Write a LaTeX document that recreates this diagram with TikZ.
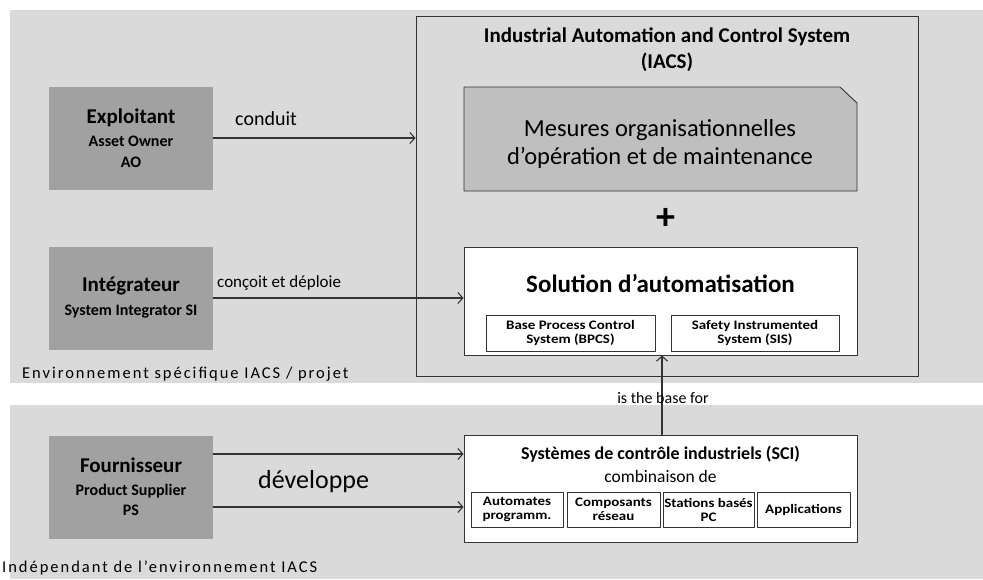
\documentclass[tikz,border=0pt]{standalone}
\usepackage{fontspec}
\usetikzlibrary{arrows.meta}
\setmainfont{Carlito}
\newfontfamily\widefont{Carlito}[FakeStretch=1.15]
\newfontfamily\spacedfont{Carlito}[LetterSpace=12]
\definecolor{dadada}{rgb}{0.855,0.855,0.855}
\definecolor{a0a0a0}{rgb}{0.63,0.63,0.63}
\definecolor{bebebe}{rgb}{0.75,0.75,0.75}
\definecolor{qqqqqq}{rgb}{0.2,0.2,0.2}
\tikzset{
  actor/.style={fill=a0a0a0,minimum width=164pt,minimum height=103pt,align=center,inner sep=0pt,font=\bfseries\fontsize{16}{16}\selectfont},
  whitebox/.style={draw=qqqqqq,line width=0.9pt,fill=white,inner sep=0pt},
  subbox/.style={draw=qqqqqq,line width=0.9pt,fill=white,align=center,inner sep=0pt,font=\widefont\bfseries\fontsize{13}{14}\selectfont},
  lbl/.style={inner sep=0pt,font=\fontsize{17}{20}\selectfont},
  fleche/.style={->,qqqqqq,line width=1.1pt}
}
\begin{document}
\begin{tikzpicture}[x=1pt,y=-1pt,line cap=round,line join=round,>={Straight Barb[length=5pt,width=11pt]}]
\useasboundingbox (0,0) rectangle (983,579);
% fonds
\fill[dadada] (10,10) rectangle (983,383);
\fill[dadada] (10,405) rectangle (983,579);
% IACS
\node[draw=qqqqqq,line width=0.9pt,minimum width=502pt,minimum height=360pt,inner sep=0pt] (iacs) at (667,196) {};
\node[align=center,font=\bfseries\fontsize{21}{26}\selectfont] (titre) at (667,50) {Industrial Automation and Control System\\(IACS)};
\draw[qqqqqq,line width=0.9pt,fill=bebebe] (464,87) -- (840,87) -- (857,103) -- (857,191) -- (464,191) -- cycle;
\node[align=center,font=\fontsize{24.5}{28}\selectfont] (mesures) at (660,144) {Mesures organisationnelles\\d’opération et de maintenance};
\node[font=\bfseries\fontsize{38}{38}\selectfont] (plus) at (666,219) {+};
\node[whitebox,minimum width=393pt,minimum height=108pt] (sol) at (660.5,301) {};
\node[font=\bfseries\fontsize{25}{28}\selectfont] (soltitre) at (660.5,283) {Solution d’automatisation};
\node[subbox,minimum width=169pt,minimum height=36pt] (bpcs) at (570.5,333) {Base Process Control\\System (BPCS)};
\node[subbox,minimum width=168pt,minimum height=36pt] (sis) at (755,333) {Safety Instrumented\\System (SIS)};
% acteurs
\node[actor] (ao) at (131,138) {{\fontsize{21}{21}\selectfont Exploitant}\\[7pt]Asset Owner\\[5pt]AO};
\node[actor] (si) at (131,298) {{\fontsize{21}{21}\selectfont Intégrateur}\\[8pt]System Integrator SI};
\node[actor] (ps) at (131,487) {{\fontsize{21}{21}\selectfont Fournisseur}\\[7pt]Product Supplier\\[4pt]PS};
% SCI
\node[whitebox,minimum width=393pt,minimum height=107pt] (sci) at (660.5,488.5) {};
\node[font=\bfseries\fontsize{18}{20}\selectfont] (scititre) at (660.5,454) {Systèmes de contrôle industriels (SCI)};
\node[font=\fontsize{17.5}{20}\selectfont] (comb) at (660.5,476) {combinaison de};
\node[subbox,minimum width=92pt,minimum height=35pt] (plc) at (517,509.5) {Automates\\programm.};
\node[subbox,minimum width=93pt,minimum height=35pt] (net) at (613.5,509.5) {Composants\\réseau};
\node[subbox,minimum width=91pt,minimum height=35pt] (pc) at (708.5,509.5) {Stations basés\\PC};
\node[subbox,minimum width=93pt,minimum height=35pt] (app) at (803.5,509.5) {Applications};
% fleches
\draw[fleche] (ao.east) -- (iacs.west |- ao.east);
\draw[fleche] (si.east) -- (sol.west |- si.east);
\draw[fleche] (ps.east |- 0,454) -- (sci.west |- 0,454);
\draw[fleche] (ps.east |- 0,507) -- (sci.west |- 0,507);
\draw[fleche] (sci.north -| 662,0) -- (sol.south -| 662,0);
% textes
\node[lbl,anchor=west,font=\fontsize{20}{24}\selectfont] (conduit) at (235,119) {conduit};
\node[lbl,anchor=west] (concoit) at (217,283) {conçoit et déploie};
\node[lbl,anchor=west,font=\fontsize{26}{30}\selectfont] (dev) at (258,482) {développe};
\node[lbl,font=\fontsize{16}{20}\selectfont] (base) at (663,398) {is the base for};
\node[lbl,anchor=west,font=\spacedfont\fontsize{16.5}{20}\selectfont] (env) at (22,374) {Environnement spécifique IACS / projet};
\node[lbl,anchor=west,font=\spacedfont\fontsize{16.5}{20}\selectfont] (indep) at (2,568) {Indépendant de l’environnement IACS};
\end{tikzpicture}
\end{document}
